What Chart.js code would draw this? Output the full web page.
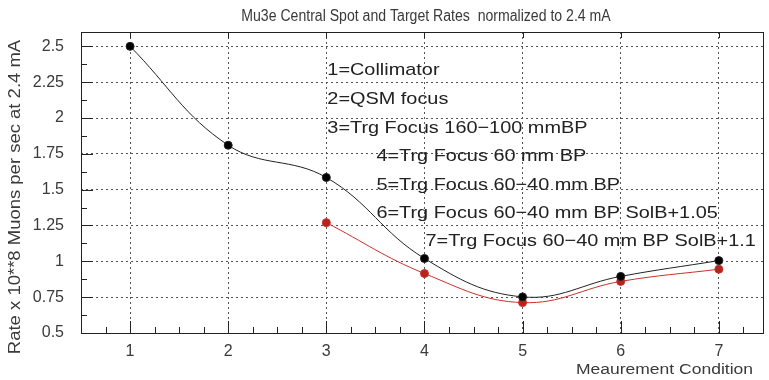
<!DOCTYPE html>
<html>
<head>
<meta charset="utf-8">
<script src="https://cdn.jsdelivr.net/npm/chart.js@4.4.1/dist/chart.umd.min.js"></script>
<style>
  html, body { margin: 0; padding: 0; background: #fff; }
  #wrap { width: 769px; height: 380px; position: relative; }
</style>
</head>
<body>
<div id="wrap"><canvas id="c" width="769" height="380"></canvas></div>
<script>
// Measurement conditions and the rates measured at each (10^8 muons/s at 2.4 mA)
const conditions = [1, 2, 3, 4, 5, 6, 7];
const centralSpotRate = [2.5, 1.81, 1.585, 1.02, 0.752, 0.895, 1.005];
const targetConditions = [3, 4, 5, 6, 7];
const targetRate = [1.27, 0.915, 0.712, 0.86, 0.945];
const yTickValues = [0.5, 0.75, 1, 1.25, 1.5, 1.75, 2, 2.25, 2.5];
const xTickValues = [1, 2, 3, 4, 5, 6, 7];
const legendLines = [
  '1=Collimator',
  '2=QSM focus',
  '3=Trg Focus 160\u2212100 mmBP',
  '4=Trg Focus 60 mm BP',
  '5=Trg Focus 60\u221240 mm BP',
  '6=Trg Focus 60\u221240 mm BP SolB+1.05',
  '7=Trg Focus 60\u221240 mm BP SolB+1.1'
];
const legendAnchor = [3, 3, 3, 3.5, 3.5, 3.5, 4]; // x position (in condition units) where each line starts
const legendRow = [2.33, 2.13, 1.93, 1.73, 1.53, 1.335, 1.14]; // y position in rate units

const FONT = '"Liberation Sans", "DejaVu Sans", sans-serif';
const TEXT = '#3a3a3a';

// draw text with a horizontal stretch (wide plotting font look)
function wideText(ctx, text, x, y, stretch, align) {
  ctx.save();
  ctx.translate(x, y);
  ctx.scale(stretch, 1);
  ctx.textAlign = align || 'left';
  ctx.fillText(text, 0, 0);
  ctx.restore();
}

const framePlugin = {
  id: 'frame',
  afterDraw(chart) {
    const { ctx, chartArea: a, scales: { x, y } } = chart;
    ctx.save();
    ctx.strokeStyle = '#222';
    ctx.lineWidth = 1;
    ctx.strokeRect(Math.round(a.left) + 0.5, Math.round(a.top) + 0.5,
                   Math.round(a.right - a.left), Math.round(a.bottom - a.top));
    ctx.beginPath();
    // inner ticks on the x axis (bottom) and short major ticks on top
    for (let v = 0.5; v <= 7.45; v += 0.25) {
      const px = Math.round(x.getPixelForValue(v)) + 0.5;
      const major = Math.abs(v - Math.round(v)) < 1e-6;
      const len = major ? 12 : 6;
      ctx.moveTo(px, a.bottom);
      ctx.lineTo(px, a.bottom - len);
      if (major) { ctx.moveTo(px, a.top); ctx.lineTo(px, a.top + 6); }
    }
    // inner ticks on the y axis
    for (let v = 0.5; v <= 2.6; v += 0.125) {
      const py = Math.round(y.getPixelForValue(v)) + 0.5;
      const major = Math.abs(v * 4 - Math.round(v * 4)) < 1e-6;
      ctx.moveTo(a.left, py);
      ctx.lineTo(a.left + (major ? 12 : 6), py);
    }
    ctx.stroke();

    ctx.textBaseline = 'middle';
    // title
    ctx.fillStyle = TEXT;
    ctx.font = '16px ' + FONT;
    wideText(ctx, 'Mu3e Central Spot and Target Rates  normalized to 2.4 mA', 426, 17, 0.88, 'center');

    // axis titles
    ctx.font = '14px ' + FONT;
    wideText(ctx, 'Meaurement Condition', 753, 370, 1.25, 'right');
    ctx.save();
    ctx.translate(15, 197);
    ctx.rotate(-Math.PI / 2);
    ctx.font = '16.5px ' + FONT;
    wideText(ctx, 'Rate x 10**8 Muons per sec at 2.4 mA', 0, 0, 1.12, 'center');
    ctx.restore();

    // condition legend
    ctx.font = '17px ' + FONT;
    ctx.fillStyle = '#222';
    legendLines.forEach((t, i) => {
      wideText(ctx, t, x.getPixelForValue(legendAnchor[i]) + 1, y.getPixelForValue(legendRow[i]), 1.17, 'left');
    });
    ctx.restore();
  }
};

new Chart(document.getElementById('c'), {
  type: 'scatter',
  data: {
    datasets: [
      {
        label: 'Central spot',
        data: conditions.map((c, i) => ({ x: c, y: centralSpotRate[i] })),
        showLine: true,
        borderColor: '#222',
        backgroundColor: '#000',
        borderWidth: 1,
        tension: 0.4,
        pointRadius: 4,
        pointHoverRadius: 4
      },
      {
        label: 'Target',
        data: targetConditions.map((c, i) => ({ x: c, y: targetRate[i] })),
        showLine: true,
        borderColor: '#c8302a',
        backgroundColor: '#b8221c',
        borderWidth: 1,
        tension: 0.4,
        pointRadius: 4,
        pointHoverRadius: 4
      }
    ]
  },
  options: {
    responsive: false,
    animation: false,
    events: [],
    layout: { padding: { top: 32, right: 6, left: 0, bottom: 0 } },
    plugins: { legend: { display: false }, tooltip: { enabled: false } },
    scales: {
      x: {
        type: 'linear',
        min: 0.5,
        max: 7.45,
        afterFit(s) { s.height = 47; },
        afterBuildTicks(s) { s.ticks = xTickValues.map(v => ({ value: v })); },
        grid: { color: '#555', lineWidth: 1, drawTicks: false },
        border: { display: false, dash: [2, 3] },
        ticks: { padding: 9, color: TEXT, font: { family: FONT, size: 16 }, callback: v => String(v) }
      },
      y: {
        type: 'linear',
        min: 0.5,
        max: 2.6,
        afterFit(s) { s.width = 81; },
        afterBuildTicks(s) { s.ticks = yTickValues.map(v => ({ value: v })); },
        grid: { color: '#555', lineWidth: 1, drawTicks: false },
        border: { display: false, dash: [2, 3] },
        ticks: { padding: 17, color: TEXT, font: { family: FONT, size: 16 }, callback: v => String(v) }
      }
    }
  },
  plugins: [framePlugin]
});
</script>
</body>
</html>
